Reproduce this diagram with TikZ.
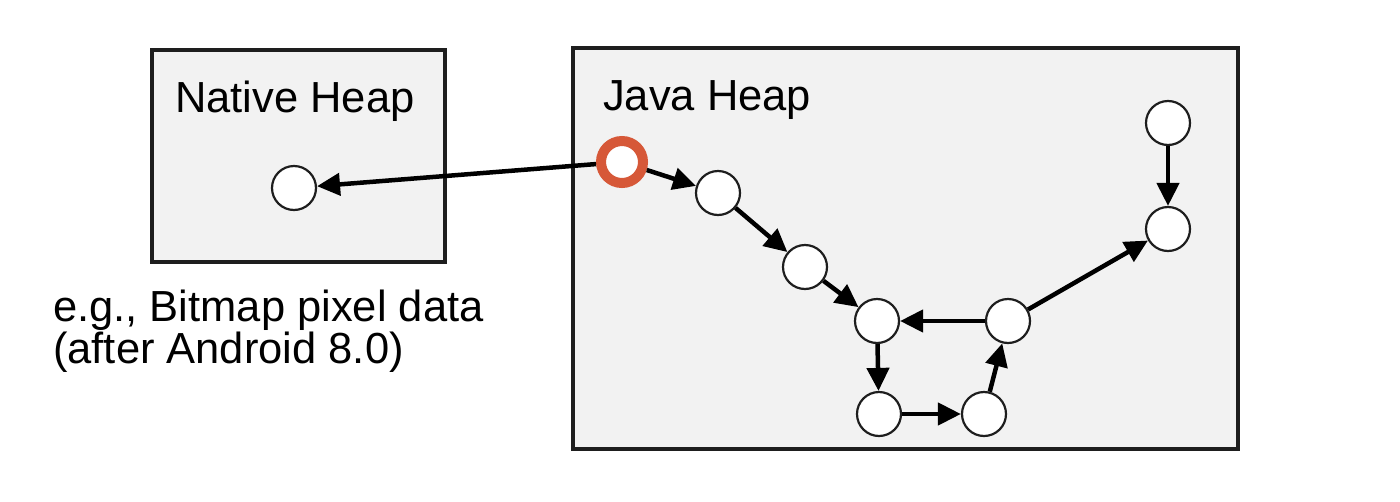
\documentclass[tikz,border=0pt]{standalone}
\usepackage{fontspec}
\setmainfont{Liberation Sans}
\usepackage{tikz}
\usetikzlibrary{arrows.meta, positioning}
\definecolor{heapgray}{RGB}{242,242,242}
\definecolor{heapline}{RGB}{30,30,30}
\definecolor{rootred}{RGB}{214,88,56}

\begin{document}
\begin{tikzpicture}[
x=1pt, y=-1pt,
texts/.style = {text=black, font=\fontsize{43.5}{42}\selectfont, inner sep=0pt},
heapbox/.style = {draw=heapline, fill=heapgray, line width=4pt},
obj/.style = {circle, draw=heapline, fill=white, line width=2.2pt, minimum size=44pt, inner sep=0pt},
rootobj/.style = {obj, draw=rootred, line width=10pt, minimum size=42pt},
ref/.style = {draw=black, line width=4.5pt, -{Triangle[length=23pt, width=22pt]}}
]
\useasboundingbox (0,0) rectangle (1400,501);

% heaps
\draw[heapbox] (152,50) rectangle (445,262);
\draw[heapbox] (573,48) rectangle (1238,449);
\node[texts, anchor=base west] (nativetitle) at (175,112) {Native Heap};
\node[texts, anchor=base west] (javatitle) at (603,110) {Java Heap};
\node[texts, anchor=base west, align=left] (note) at (53,363) {e.g., Bitmap pixel data\\(after Android 8.0)};

% objects
\node[obj] (pixels) at (294,188) {};
\node[rootobj] (bitmap) at (622,162) {};
\node[obj] (a) at (718,193) {};
\node[obj] (b) at (805,267) {};
\node[obj] (c) at (877,321) {};
\node[obj] (d) at (879,414) {};
\node[obj] (e) at (984,414) {};
\node[obj] (f) at (1008,321) {};
\node[obj] (g) at (1168,229) {};
\node[obj] (h) at (1168,123) {};

% references
\draw[ref] (bitmap) -- (pixels);
\draw[ref] (bitmap) -- (a);
\draw[ref] (a) -- (b);
\draw[ref] (b) -- (c);
\draw[ref] (f) -- (c);
\draw[ref] (c) -- (d);
\draw[ref] (d) -- (e);
\draw[ref] (e) -- (f);
\draw[ref] (f) -- (g);
\draw[ref] (h) -- (g);
\end{tikzpicture}
\end{document}
